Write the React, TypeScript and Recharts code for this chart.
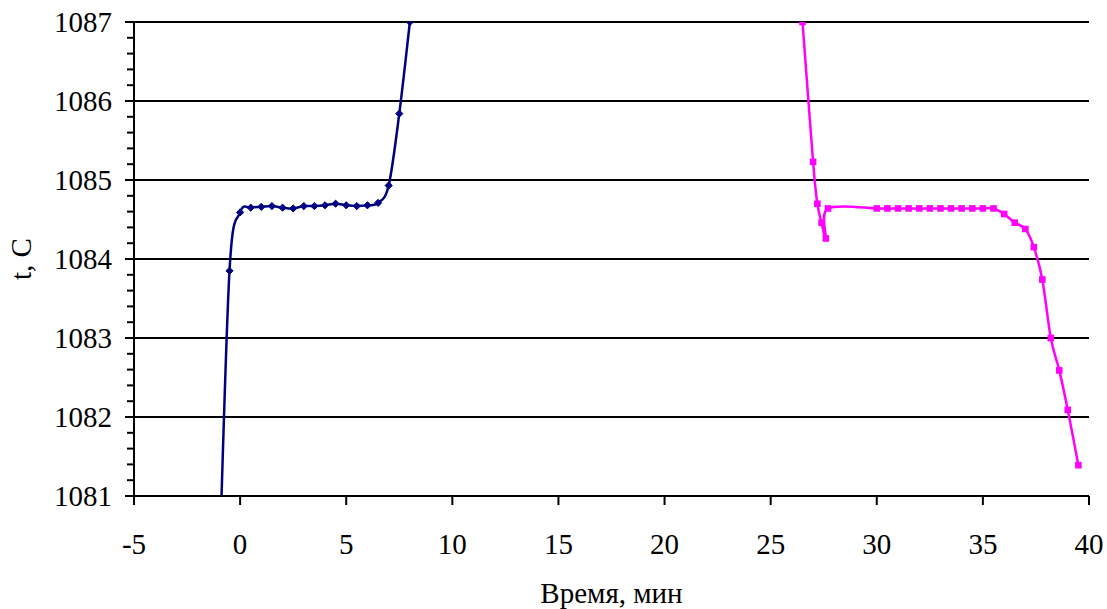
import React from 'react';
import { LineChart, Line, XAxis, YAxis, ReferenceLine, Label } from 'recharts';

// ---- data ----
const blueTime = [-1, -0.5, 0, 0.5, 1, 1.5, 2, 2.5, 3, 3.5, 4, 4.5, 5, 5.5, 6, 6.5, 7, 7.5, 8];
const blueTemp = [1079.9, 1083.85, 1084.59, 1084.65, 1084.66, 1084.67, 1084.65, 1084.64, 1084.67, 1084.67, 1084.68, 1084.7, 1084.68, 1084.67, 1084.68, 1084.71, 1084.93, 1085.84, 1087.0];

const pinkTime = [26.5, 27, 27.2, 27.4, 27.6, 27.7, 30, 30.5, 31, 31.5, 32, 32.5, 33, 33.5, 34, 34.5, 35, 35.5, 36, 36.5, 37, 37.4, 37.8, 38.2, 38.6, 39, 39.5];
const pinkTemp = [1087.0, 1085.23, 1084.7, 1084.46, 1084.26, 1084.64, 1084.64, 1084.64, 1084.64, 1084.64, 1084.64, 1084.64, 1084.64, 1084.64, 1084.64, 1084.64, 1084.64, 1084.64, 1084.57, 1084.46, 1084.38, 1084.15, 1083.74, 1083.0, 1082.59, 1082.09, 1081.39];

const xTicks = [-5, 0, 5, 10, 15, 20, 25, 30, 35, 40];
const yTicks = [1081, 1081.2, 1081.4, 1081.6, 1081.8, 1082, 1082.2, 1082.4, 1082.6, 1082.8, 1083, 1083.2, 1083.4, 1083.6, 1083.8, 1084, 1084.2, 1084.4, 1084.6, 1084.8, 1085, 1085.2, 1085.4, 1085.6, 1085.8, 1086, 1086.2, 1086.4, 1086.6, 1086.8, 1087];
const gridValues = [1082, 1083, 1084, 1085, 1086, 1087];

const blueData = blueTime.map((t, i) => ({ t, v: blueTemp[i] }));
const pinkData = pinkTime.map((t, i) => ({ t, v: pinkTemp[i] }));

const FONT = "'Liberation Serif', 'Times New Roman', 'DejaVu Serif', serif";
const FS = 29;
const Y_TICK_SIZE = 9;
const Y_TICK_MARGIN = 13;
const textStyle = { fontFamily: FONT, fontSize: FS };

// Excel-like smoothing (uniform Catmull-Rom as cubic Bezier)
const excelSmooth = (context: any) => {
  let pts: number[][] = [];
  return {
    areaStart() {},
    areaEnd() {},
    lineStart() {
      pts = [];
    },
    point(x: number, y: number) {
      pts.push([+x, +y]);
    },
    lineEnd() {
      if (!pts.length) return;
      context.moveTo(pts[0][0], pts[0][1]);
      for (let i = 0; i < pts.length - 1; i++) {
        const p0 = pts[i - 1] || pts[i];
        const p1 = pts[i];
        const p2 = pts[i + 1];
        const p3 = pts[i + 2] || pts[i + 1];
        context.bezierCurveTo(
          p1[0] + (p2[0] - p0[0]) / 6,
          p1[1] + (p2[1] - p0[1]) / 6,
          p2[0] - (p3[0] - p1[0]) / 6,
          p2[1] - (p3[1] - p1[1]) / 6,
          p2[0],
          p2[1]
        );
      }
    },
  };
};

const YTick = (props: any) => {
  const { x, y, payload } = props;
  const axisX = x + Y_TICK_SIZE + Y_TICK_MARGIN;
  const val = payload.value;
  const major = Math.abs(val - Math.round(val)) < 1e-6;
  return (
    <g>
      <line
        x1={axisX - (major ? 9 : 7)}
        x2={axisX + (major ? 1 : 0)}
        y1={y}
        y2={y}
        stroke="#000"
        strokeWidth={2}
      />
      {major && (
        <text x={x} y={y} dy="0.35em" textAnchor="end" fill="#000" style={textStyle}>
          {Math.round(val)}
        </text>
      )}
    </g>
  );
};

const XTick = (props: any) => {
  const { x, y, payload } = props;
  return (
    <text x={x} y={y} dy="0.71em" textAnchor="middle" fill="#000" style={textStyle}>
      {payload.value}
    </text>
  );
};

const Diamond = (props: any) => {
  const { cx, cy, index } = props;
  if (cx == null || cy == null) return <g key={`d${index}`} />;
  const s = 3.6;
  return (
    <path
      key={`d${index}`}
      d={`M${cx},${cy - s}L${cx + s},${cy}L${cx},${cy + s}L${cx - s},${cy}Z`}
      fill="#000080"
      stroke="#000080"
      strokeWidth={1}
    />
  );
};

const Square = (props: any) => {
  const { cx, cy, index } = props;
  if (cx == null || cy == null) return <g key={`s${index}`} />;
  const s = 3.3;
  return <rect key={`s${index}`} x={cx - s} y={cy - s} width={2 * s} height={2 * s} fill="#FF00FF" />;
};

export default function App() {
  return (
    <div style={{ position: 'absolute', left: 0, top: 0, background: '#fff', fontFamily: FONT }}>
      <LineChart width={1107} height={609} margin={{ top: 22, right: 18, bottom: 0, left: 0 }}>
        <XAxis
          type="number"
          dataKey="t"
          domain={[-5, 40]}
          ticks={xTicks}
          allowDataOverflow
          height={113}
          stroke="#000"
          strokeWidth={2}
          tickSize={9}
          tickMargin={28}
          tick={<XTick />}
          tickLine={{ stroke: '#000', strokeWidth: 2 }}
        >
          <Label
            content={(p: any) => (
              <text
                x={p.viewBox.x + p.viewBox.width / 2}
                y={p.viewBox.y + 107}
                textAnchor="middle"
                fill="#000"
                style={textStyle}
              >
                Время, мин
              </text>
            )}
          />
        </XAxis>
        <YAxis
          type="number"
          domain={[1081, 1087]}
          ticks={yTicks}
          allowDataOverflow
          width={134}
          stroke="#000"
          strokeWidth={2}
          tickSize={Y_TICK_SIZE}
          tickMargin={Y_TICK_MARGIN}
          tickLine={false}
          tick={<YTick />}
          interval={0}
        >
          <Label
            content={(p: any) => (
              <text
                x={0}
                y={0}
                transform={`translate(${p.viewBox.x + 31}, ${p.viewBox.y + p.viewBox.height / 2}) rotate(-90)`}
                textAnchor="middle"
                fill="#000"
                style={textStyle}
              >
                t, C
              </text>
            )}
          />
        </YAxis>
        {gridValues.map((g) => (
          <ReferenceLine key={g} y={g} stroke="#000" strokeWidth={2} />
        ))}
        <Line
          data={blueData}
          dataKey="v"
          type={excelSmooth as any}
          stroke="#000080"
          strokeWidth={2.5}
          dot={Diamond}
          activeDot={false}
          isAnimationActive={false}
        />
        <Line
          data={pinkData}
          dataKey="v"
          type={excelSmooth as any}
          stroke="#FF00FF"
          strokeWidth={2.5}
          dot={Square}
          activeDot={false}
          isAnimationActive={false}
        />
      </LineChart>
    </div>
  );
}
